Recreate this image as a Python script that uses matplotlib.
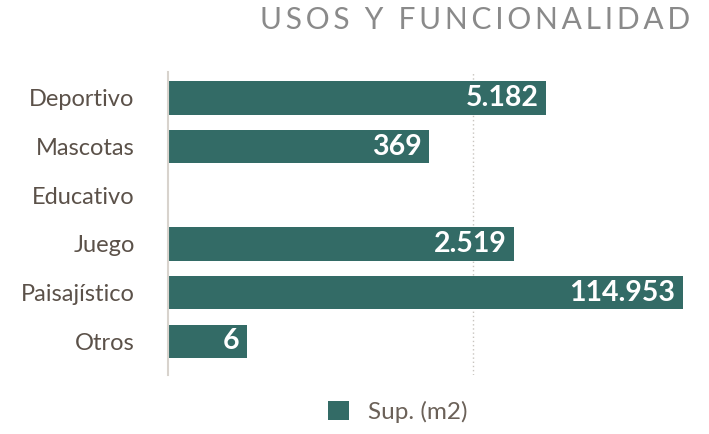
import numpy as np
import matplotlib
matplotlib.use("Agg")
import matplotlib.pyplot as plt

categories = ["Deportivo", "Mascotas", "Educativo", "Juego", "Paisajístico", "Otros"]
values = [5182, 369, 0, 2519, 114953, 6]
series_name = "Sup. (m2)"
title = "USOS Y FUNCIONALIDAD"

bar_color = "#336b66"
label_color = "#5b5149"

plt.rcParams['font.family'] = ['Lato', 'DejaVu Sans']

fig = plt.figure(figsize=(7.09, 4.34), dpi=100)
ax = fig.add_axes([168/709, 1-375/434, (690-168)/709, (375-72)/434])

y = np.arange(len(categories))
vals = np.array(values, dtype=float)
plot_vals = np.where(vals > 0, vals, np.nan)
ax.set_xscale('log')
bars = ax.barh(y, plot_vals, height=0.69, color=bar_color, label=series_name)
ax.set_xlim(1, 1.35e5)
ax.set_ylim(5.69, -0.53)

def fmt(v):
    return f"{int(v):,}".replace(",", ".")

for yi, v in zip(y, vals):
    if v > 0:
        ax.annotate(fmt(v), xy=(v, yi), xytext=(-5.5, 0), textcoords='offset points',
                    ha='right', va='center', color='white', fontsize=20.5,
                    fontweight='bold')

ax.set_yticks(y)
ax.set_yticklabels(categories, fontsize=17, color=label_color)
ax.tick_params(axis='y', length=0, pad=24)
ax.set_xticks([1000])
ax.set_xticks([], minor=True)
ax.set_xticklabels([])
ax.tick_params(axis='x', length=0)
ax.grid(axis='x', linestyle=(0, (1, 2)), color='#c8c4bf', linewidth=1)
ax.set_axisbelow(True)
for s in ['top', 'right', 'bottom']:
    ax.spines[s].set_visible(False)
ax.spines['left'].set_color('#d8d3cd')
ax.spines['left'].set_linewidth(1.5)

fig.text(690/709, 1-20/434, "\u2009".join(title), ha='right', va='center',
         fontsize=21.5, color='#8a8a8a', fontweight='normal')

fig.legend(handles=[bars], labels=[series_name], loc='center',
           bbox_to_anchor=(398/709, 1-412/434), frameon=False,
           fontsize=17.5, labelcolor='#6b6158', handlelength=0.85, handleheight=0.85,
           handletextpad=0.8)

fig.savefig("out.png", dpi=100)
